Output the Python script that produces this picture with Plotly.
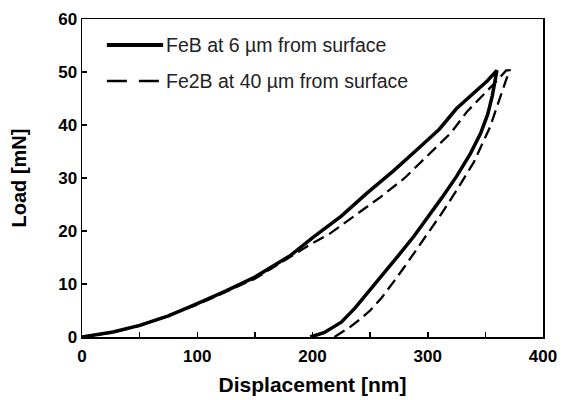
import plotly.graph_objects as go

# FeB at 6 um from surface (solid): loading then unloading
feb_load_x = [0, 10, 27, 50, 75, 100, 125, 150, 181, 201, 225, 247, 270, 293, 310, 325, 342, 352, 360]
feb_load_y = [0, 0.3, 0.95, 2.2, 4.0, 6.3, 8.7, 11.3, 15.4, 18.9, 22.8, 27.1, 31.3, 35.8, 39.2, 43.1, 46.5, 48.4, 50.3]
feb_unload_x = [360, 356, 352, 346, 337, 325, 312, 300, 288, 275, 262, 250, 237, 225, 210, 198]
feb_unload_y = [50.3, 45.5, 42.0, 38.5, 34.6, 30.3, 26.2, 22.5, 19.0, 15.5, 12.0, 8.8, 5.5, 2.8, 0.8, 0]

# Fe2B at 40 um from surface (dashed)
fe2b_load_x = [0, 27, 50, 100, 150, 200, 215, 247, 259, 280, 299, 320, 334, 350, 362, 368, 371]
fe2b_load_y = [0, 0.9, 2.1, 6.1, 11.0, 17.7, 19.5, 24.5, 26.4, 30.0, 34.0, 38.5, 42.5, 46.0, 48.8, 50.3, 50.3]
fe2b_unload_x = [371, 368, 362, 354, 340, 326, 312, 300, 289, 280, 271, 260, 250, 241, 232, 224, 219]
fe2b_unload_y = [50.3, 48.5, 44.5, 39.6, 33.0, 28.0, 23.3, 19.5, 16.0, 13.3, 10.6, 7.4, 5.0, 3.3, 1.8, 0.6, 0]

x_ticks = [0, 100, 200, 300, 400]
y_ticks = [0, 10, 20, 30, 40, 50, 60]
legend_labels = ["FeB at 6 µm from surface", "Fe2B at 40 µm from surface"]

fig = go.Figure()
fig.add_trace(go.Scatter(x=feb_load_x + feb_unload_x[1:], y=feb_load_y + feb_unload_y[1:],
                         mode="lines", line=dict(color="black", width=3.5),
                         name=legend_labels[0], showlegend=False, hoverinfo="skip"))
fig.add_trace(go.Scatter(x=fe2b_load_x + fe2b_unload_x[1:], y=fe2b_load_y + fe2b_unload_y[1:],
                         mode="lines", line=dict(color="black", width=2.3, dash="12px,6px"),
                         name=legend_labels[1], showlegend=False, hoverinfo="skip"))

# manual legend
leg_y = [0.918, 0.805]
dashes = ["solid", "20px,12px"]
widths = [4, 2.3]
for i in range(2):
    fig.add_shape(type="line", xref="paper", yref="paper", x0=0.054, x1=0.176, y0=leg_y[i], y1=leg_y[i],
                  line=dict(color="black", width=widths[i], dash=dashes[i]))
    fig.add_annotation(xref="paper", yref="paper", x=0.178, y=leg_y[i], text=legend_labels[i],
                       showarrow=False, xanchor="left", yanchor="middle",
                       font=dict(family="Liberation Sans", size=19.5, color="#222"))

axis_common = dict(showline=True, mirror=True, linecolor="black", linewidth=1.5,
                   ticks="inside", ticklen=5, tickwidth=1.5, tickcolor="black",
                   showgrid=False, zeroline=False, automargin=False,
                   tickfont=dict(family="Liberation Sans", size=17, color="black", weight="bold"))

fig.update_layout(
    width=563, height=400,
    margin=dict(l=82, r=20, t=19, b=63),
    paper_bgcolor="white", plot_bgcolor="white",
    xaxis=dict(range=[0, 400], tickvals=x_ticks, **axis_common, ticklabelstandoff=3,
               minor=dict(dtick=50, ticks="inside", ticklen=5, tickwidth=1.5, tickcolor="black"),
               title=dict(text="Displacement [nm]", standoff=12,
                          font=dict(family="Liberation Sans", size=21, color="black", weight="bold"))),
    yaxis=dict(range=[0, 60], tickvals=y_ticks, **axis_common,
               title=dict(text="Load [mN]", standoff=26,
                          font=dict(family="Liberation Sans", size=20, color="black", weight="bold"))),
)

fig.write_html("out.html", config={"displayModeBar": False, "staticPlot": True},
               post_script="document.body.style.margin='0';document.body.style.overflow='hidden';")
